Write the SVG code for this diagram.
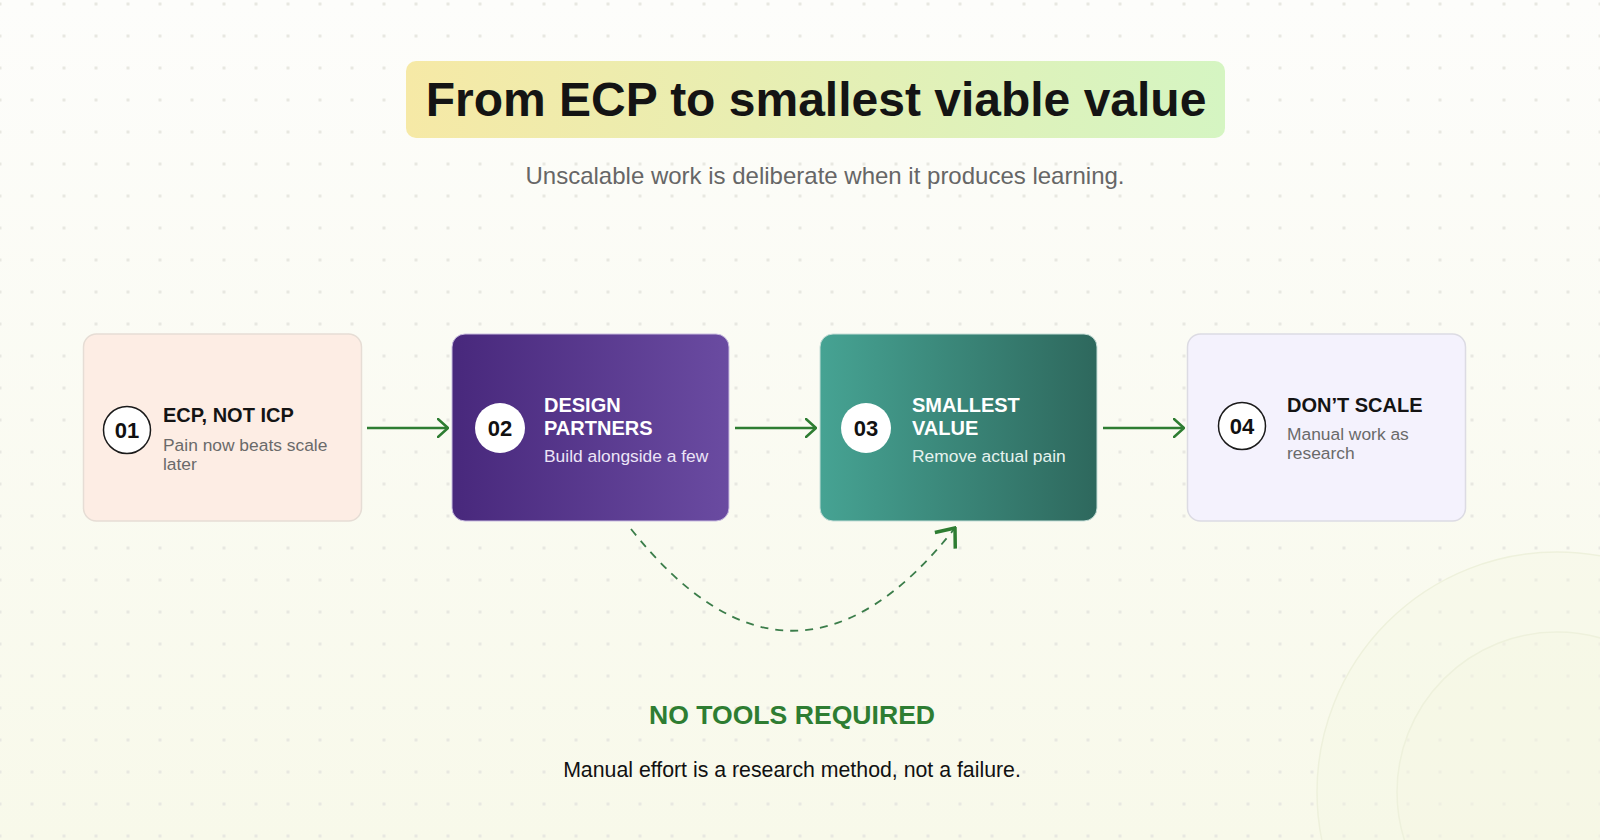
<svg xmlns="http://www.w3.org/2000/svg" width="1600" height="840" viewBox="0 0 1600 840">
  <defs>
    <linearGradient id="bg" x1="0" y1="0" x2="0" y2="1">
      <stop offset="0" stop-color="#fdfdfb"/>
      <stop offset="1" stop-color="#f8f9ea"/>
    </linearGradient>
    <pattern id="dots" patternUnits="userSpaceOnUse" x="-16" y="-12" width="32" height="32">
      <rect x="14.5" y="14.5" width="3" height="3" fill="#e8e8e1"/>
    </pattern>
    <linearGradient id="titleGrad" x1="0" y1="0" x2="1" y2="0">
      <stop offset="0" stop-color="#f6e9a6"/>
      <stop offset="1" stop-color="#d5f5c2"/>
    </linearGradient>
    <linearGradient id="purple" x1="0" y1="0" x2="1" y2="0">
      <stop offset="0" stop-color="#48287c"/>
      <stop offset="1" stop-color="#6a4ba1"/>
    </linearGradient>
    <linearGradient id="teal" x1="0" y1="0" x2="1" y2="0">
      <stop offset="0" stop-color="#46a393"/>
      <stop offset="1" stop-color="#2e685d"/>
    </linearGradient>
    <marker id="arrow" viewBox="0 0 12 20" refX="11" refY="10" markerWidth="12" markerHeight="20" markerUnits="userSpaceOnUse" orient="auto">
      <path d="M1,1 L11,10 L1,19" fill="none" stroke="#2e7d32" stroke-width="2.5" stroke-linecap="round" stroke-linejoin="round"/>
    </marker>
    <marker id="arrowBig" viewBox="0 0 20 30" refX="18" refY="15" markerWidth="20" markerHeight="30" markerUnits="userSpaceOnUse" orient="auto">
      <path d="M2,2 L18,15 L2,28" fill="none" stroke="#2e7d32" stroke-width="3.5" stroke-linecap="butt" stroke-linejoin="miter"/>
    </marker>
  </defs>
  <style>
    .title { font-family: "Liberation Sans", Arial, sans-serif; font-weight: bold; font-size: 48px; fill: #141414; }
    .sub { font-family: "Liberation Sans", Arial, sans-serif; font-size: 24px; fill: #666666; }
    .num { font-family: "Liberation Sans", Arial, sans-serif; font-weight: bold; font-size: 22px; fill: #111111; text-anchor: middle; }
    .h { font-family: "Liberation Sans", Arial, sans-serif; font-weight: bold; font-size: 20px; fill: #141414; }
    .d { font-family: "Liberation Sans", Arial, sans-serif; font-size: 17.4px; fill: #6a6a6a; }
    .hw { fill: #ffffff; }
    .dp { fill: #ece4f7; }
    .dt { fill: #e6f3ef; }
    .conn { fill: none; stroke: #2e7d32; stroke-width: 2.5; }
    .dash { fill: none; stroke: #3b7d4a; stroke-width: 1.8; stroke-dasharray: 8 7; }
    .note { font-family: "Liberation Sans", Arial, sans-serif; font-weight: bold; font-size: 26.6px; fill: #2e7d32; text-anchor: middle; }
    .foot { font-family: "Liberation Sans", Arial, sans-serif; font-size: 21.3px; fill: #111111; text-anchor: middle; }
  </style>

  <rect width="1600" height="840" fill="url(#bg)"/>
  <rect width="1600" height="840" fill="url(#dots)"/>
  <circle cx="1557" cy="792" r="240" fill="#f4f6e2" fill-opacity="0.35" stroke="#eef1dc" stroke-width="1.5"/>
  <circle cx="1557" cy="792" r="160" fill="#f4f6e2" fill-opacity="0.3" stroke="#eef1dc" stroke-width="1.5"/>

  <g id="header">
    <rect x="406" y="61" width="819" height="77" rx="10" fill="url(#titleGrad)"/>
    <text class="title" x="816" y="116" text-anchor="middle">From ECP to smallest viable value</text>
    <text class="sub" x="825" y="184" text-anchor="middle">Unscalable work is deliberate when it produces learning.</text>
  </g>

  <g id="connectors">
    <line class="conn" x1="367" y1="428" x2="448" y2="428" marker-end="url(#arrow)"/>
    <line class="conn" x1="735" y1="428" x2="816" y2="428" marker-end="url(#arrow)"/>
    <line class="conn" x1="1103" y1="428" x2="1184" y2="428" marker-end="url(#arrow)"/>
    <path class="dash" d="M631,529 Q793,733 955,528" marker-end="url(#arrowBig)"/>
  </g>

  <g id="node-01">
    <rect x="83.5" y="334" width="278" height="187" rx="13" fill="#fdede4" stroke="#e6ddd5" stroke-width="1.5"/>
    <circle cx="127" cy="430" r="23.5" fill="#ffffff" stroke="#1a1a1a" stroke-width="1.5"/>
    <text class="num" x="127" y="438">01</text>
    <text class="h" x="163" y="422">ECP, NOT ICP</text>
    <text class="d" x="163" y="451">Pain now beats scale</text>
    <text class="d" x="163" y="470">later</text>
  </g>

  <g id="node-02">
    <rect x="452" y="334" width="277" height="187" rx="13" fill="url(#purple)" stroke="#c9bde0" stroke-width="1"/>
    <circle cx="500" cy="428" r="25" fill="#ffffff"/>
    <text class="num" x="500" y="436">02</text>
    <text class="h hw" x="544" y="412">DESIGN</text>
    <text class="h hw" x="544" y="435">PARTNERS</text>
    <text class="d dp" x="544" y="462">Build alongside a few</text>
  </g>

  <g id="node-03">
    <rect x="820" y="334" width="277" height="187" rx="13" fill="url(#teal)" stroke="#c6ded8" stroke-width="1"/>
    <circle cx="866" cy="428" r="25" fill="#ffffff"/>
    <text class="num" x="866" y="436">03</text>
    <text class="h hw" x="912" y="412">SMALLEST</text>
    <text class="h hw" x="912" y="435">VALUE</text>
    <text class="d dt" x="912" y="462">Remove actual pain</text>
  </g>

  <g id="node-04">
    <rect x="1187.5" y="334" width="278" height="187" rx="13" fill="#f4f2fd" stroke="#dcdbe3" stroke-width="1.5"/>
    <circle cx="1242" cy="426" r="23.5" fill="#ffffff" stroke="#1a1a1a" stroke-width="1.5"/>
    <text class="num" x="1242" y="434">04</text>
    <text class="h" x="1287" y="412">DON’T SCALE</text>
    <text class="d" x="1287" y="440">Manual work as</text>
    <text class="d" x="1287" y="459">research</text>
  </g>

  <g id="footer">
    <text class="note" x="792" y="724">NO TOOLS REQUIRED</text>
    <text class="foot" x="792" y="777">Manual effort is a research method, not a failure.</text>
  </g>
</svg>
